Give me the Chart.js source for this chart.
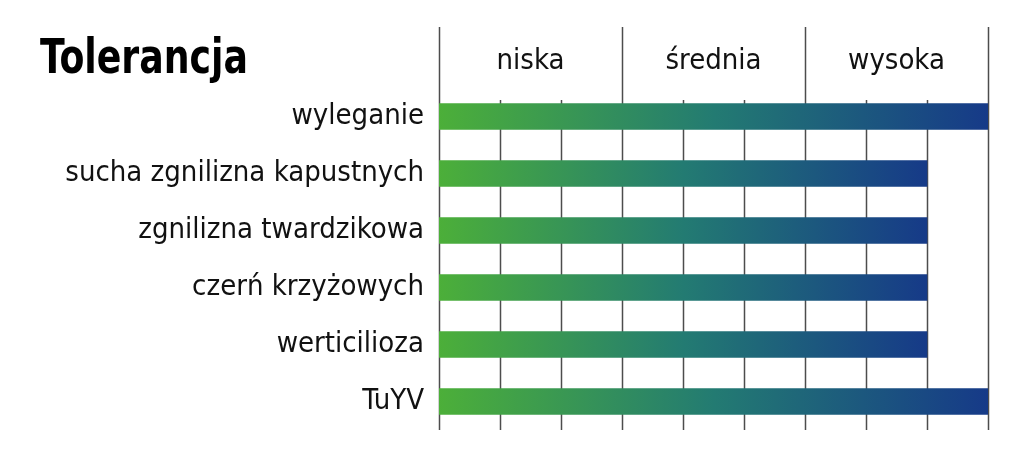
<!DOCTYPE html>
<html lang="pl">
<head>
    <meta charset="UTF-8">
    <title>Tolerancja</title>
    <style>
        html, body {
            margin: 0;
            padding: 0;
            background: #fff;
        }
        .wrap {
            position: relative;
            width: 1024px;
            height: 453px;
        }
        .title {
            position: absolute;
            left: 40px;
            top: 32px;
            font-family: 'DejaVu Sans Condensed', 'Liberation Sans Narrow', sans-serif;
            font-weight: bold;
            font-size: 48px;
            line-height: 1;
            color: #000;
            transform: scaleX(0.84);
            transform-origin: left top;
            white-space: nowrap;
        }
    </style>
    <script src="https://cdn.jsdelivr.net/npm/chart.js"></script>
</head>
<body>
    <div class="wrap">
        <canvas id="chart"></canvas>
        <div class="title">Tolerancja</div>
    </div>

    <script>
        // data
        const categories = ['wyleganie', 'sucha zgnilizna kapustnych', 'zgnilizna twardzikowa',
            'czerń krzyżowych', 'werticilioza', 'TuYV'];
        const values = [9, 8, 8, 8, 8, 9];
        const headerLabels = ['niska', 'średnia', 'wysoka'];
        const headerCenters = [1.5, 4.5, 7.5];
        const gridSteps = [0, 1, 2, 3, 4, 5, 6, 7, 8, 9];
        const majorSteps = [0, 3, 6, 9];

        const FONT = "'DejaVu Sans Condensed', 'Liberation Sans Narrow', sans-serif";

        // gradient per bar, from 0 to the bar's own value
        function barGradient(context) {
            const chart = context.chart;
            const xScale = chart.scales.x;
            if (!chart.chartArea || !xScale) return '#2a7a70';
            const x0 = xScale.getPixelForValue(0);
            const x1 = xScale.getPixelForValue(context.raw);
            const g = chart.ctx.createLinearGradient(x0, 0, x1, 0);
            g.addColorStop(0, '#4caf39');
            g.addColorStop(0.5, '#237b72');
            g.addColorStop(1, '#163a88');
            return g;
        }

        // grid lines behind the bars, major ones go up into the header
        const gridPlugin = {
            id: 'gridLines',
            beforeDatasetsDraw(chart) {
                const ctx = chart.ctx;
                const area = chart.chartArea;
                const xScale = chart.scales.x;
                ctx.save();
                ctx.strokeStyle = '#4d4d4d';
                ctx.lineWidth = 1.5;
                gridSteps.forEach(function(v) {
                    const px = Math.round(xScale.getPixelForValue(v)) + 0.5;
                    const top = majorSteps.includes(v) ? 27 : area.top + 12;
                    ctx.beginPath();
                    ctx.moveTo(px, top);
                    ctx.lineTo(px, area.bottom);
                    ctx.stroke();
                });
                ctx.restore();
            }
        };

        new Chart(document.getElementById('chart').getContext('2d'), {
            type: 'bar',
            data: {
                labels: categories,
                datasets: [{
                    data: values,
                    backgroundColor: barGradient,
                    borderWidth: 0,
                    barThickness: 26
                }]
            },
            options: {
                indexAxis: 'y',
                responsive: true,
                maintainAspectRatio: false,
                animation: false,
                layout: {
                    padding: { top: 0, right: 36, bottom: 23, left: 0 }
                },
                scales: {
                    x: {
                        display: false,
                        min: 0,
                        max: 9
                    },
                    x2: {
                        position: 'top',
                        min: 0,
                        max: 9,
                        grid: { display: false, drawTicks: false },
                        border: { display: false },
                        afterBuildTicks: function(scale) {
                            scale.ticks = headerCenters.map(function(v) { return { value: v }; });
                        },
                        afterFit: function(scale) {
                            scale.height = 88;
                        },
                        ticks: {
                            autoSkip: false,
                            maxRotation: 0,
                            padding: 9,
                            color: '#111',
                            font: { family: FONT, size: 29 },
                            callback: function(value, index) {
                                return headerLabels[index];
                            }
                        }
                    },
                    y: {
                        grid: { display: false, drawTicks: false },
                        border: { display: false },
                        afterFit: function(scale) {
                            scale.width = 439;
                            scale.paddingTop = 0;
                            scale.paddingBottom = 0;
                        },
                        ticks: {
                            padding: 15,
                            color: '#111',
                            font: { family: FONT, size: 29 }
                        }
                    }
                },
                plugins: {
                    legend: { display: false },
                    tooltip: { enabled: false }
                }
            },
            plugins: [gridPlugin]
        });
    </script>
</body>
</html>
